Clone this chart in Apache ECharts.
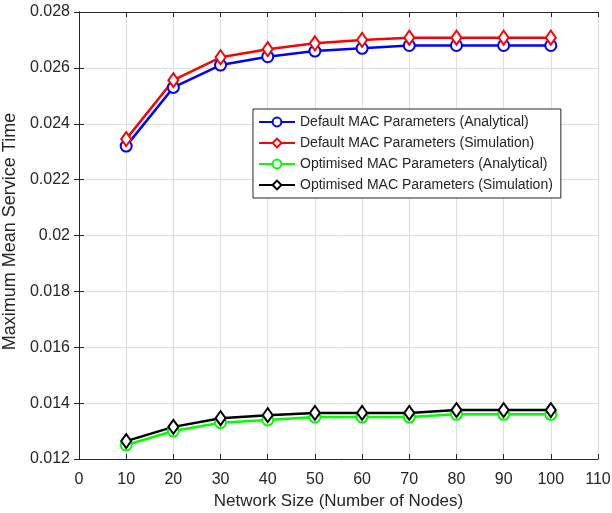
<!DOCTYPE html>
<html><head><meta charset="utf-8">
<script src="https://cdn.jsdelivr.net/npm/echarts@6/dist/echarts.min.js"></script>
<style>html,body{margin:0;padding:0;background:#fff}#c{width:612px;height:513px}</style>
</head><body><div id="c"></div>
<script>
var nodes = [10,20,30,40,50,60,70,80,90,100];
var defaultAnalytical = [0.0232,0.0253,0.0261,0.0264,0.0266,0.0267,0.0268,0.0268,0.0268,0.0268];
var defaultSimulation = [0.02345,0.02556,0.02638,0.02667,0.02688,0.02700,0.02708,0.02708,0.02708,0.02708];
var optAnalytical = [0.0125,0.0130,0.0133,0.0134,0.0135,0.0135,0.0135,0.0136,0.0136,0.0136];
var optSimulation = [0.01264,0.01315,0.01346,0.01357,0.01365,0.01365,0.01365,0.01375,0.01375,0.01375];
var seriesNames = ['Default MAC Parameters (Analytical)','Default MAC Parameters (Simulation)','Optimised MAC Parameters (Analytical)','Optimised MAC Parameters (Simulation)'];

function pairs(v){ return nodes.map(function(x,i){ return [x, v[i]]; }); }
var font = 'Liberation Sans, Arial, sans-serif';
var txt = '#262626';
var chart = echarts.init(document.getElementById('c'), null, {renderer:'canvas'});
function mk(name, data, color, sym, size){
  return {name:name, type:'line', data:pairs(data), symbol:sym, symbolSize:size,
    lineStyle:{color:color, width:2.5}, itemStyle:{color:color, borderColor:color, borderWidth:2},
    emphasis:{disabled:true}, animation:false};
}
chart.setOption({
  animation:false,
  backgroundColor:'#fff',
  grid:{left:79, right:14, top:12, bottom:54, containLabel:false, outerBoundsMode:'none'},
  legend:{show:true, data:seriesNames, orient:'vertical', left:253, top:109,
    padding:[6,8,6,5], itemGap:7, itemWidth:36, itemHeight:11,
    borderColor:'#262626', borderWidth:1, backgroundColor:'#fff',
    textStyle:{fontFamily:font, fontSize:14, color:txt}},
  xAxis:[{type:'value', min:0, max:110, interval:10, name:'Network Size (Number of Nodes)',
    nameLocation:'middle', nameGap:29, nameTextStyle:{fontFamily:font, fontSize:17, color:txt},
    axisLine:{lineStyle:{color:'#262626'}}, axisTick:{inside:true, length:5, lineStyle:{color:'#262626'}},
    axisLabel:{fontFamily:font, fontSize:16, color:txt, margin:13},
    splitLine:{show:true, lineStyle:{color:'#dfdfdf'}}},
   {type:'value', position:'top', min:0, max:110, interval:10,
    axisLine:{show:true, lineStyle:{color:'#262626'}}, axisTick:{inside:true, length:5, lineStyle:{color:'#262626'}},
    axisLabel:{show:false}, splitLine:{show:false}}],
  yAxis:[{type:'value', min:0.012, max:0.028, interval:0.002, name:'Maximum Mean Service Time',
    nameLocation:'middle', nameGap:52, nameTextStyle:{fontFamily:font, fontSize:18, color:txt, padding:[0,0,0,8]},
    axisLine:{show:true, lineStyle:{color:'#262626'}}, axisTick:{show:true, inside:true, length:5, lineStyle:{color:'#262626'}},
    axisLabel:{fontFamily:font, fontSize:16, color:txt, margin:9, formatter:function(v){return String(parseFloat(v.toFixed(3)));}},
    splitLine:{show:true, lineStyle:{color:'#dfdfdf'}}},
   {type:'value', position:'right', min:0.012, max:0.028, interval:0.002,
    axisLine:{show:true, lineStyle:{color:'#262626'}}, axisTick:{show:true, inside:true, length:5, lineStyle:{color:'#262626'}},
    axisLabel:{show:false}, splitLine:{show:false}}],
  series:[
    mk(seriesNames[0], defaultAnalytical, '#0000ff', 'emptyCircle', 11),
    mk(seriesNames[1], defaultSimulation, '#ff0000', 'emptyDiamond', [10,14]),
    mk(seriesNames[2], optAnalytical, '#00ff00', 'emptyCircle', 11),
    mk(seriesNames[3], optSimulation, '#000000', 'emptyDiamond', [10,14])
  ]
});
</script></body></html>
